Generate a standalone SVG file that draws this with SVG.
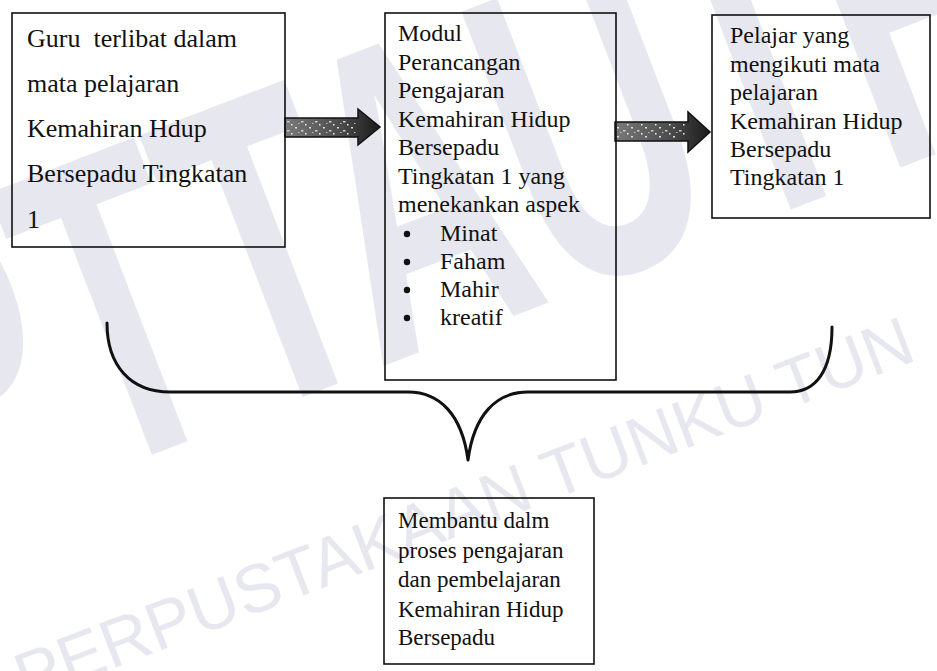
<svg xmlns="http://www.w3.org/2000/svg" width="937" height="671" viewBox="0 0 937 671">
<defs>
<style>
.box{fill:none;stroke:#111;stroke-width:1.6}
.t26{font-family:"Liberation Serif","Times New Roman",serif;font-size:26px;fill:#111}
.t24{font-family:"Liberation Serif","Times New Roman",serif;font-size:24px;fill:#111}
.t23{font-family:"Liberation Serif","Times New Roman",serif;font-size:23px;fill:#111}
.wm{font-family:"Liberation Sans",Arial,sans-serif;fill:#e7e7f0}
.brace{fill:none;stroke:#111;stroke-width:3;stroke-linecap:round;stroke-linejoin:round}
.arrow{stroke:#111;stroke-width:1.5;fill:url(#tex)}
.spk{fill:url(#speck)}
</style>
<linearGradient id="tex" x1="0" y1="0" x2="1" y2="0">
<stop offset="0" stop-color="#7a7a7a"/>
<stop offset="0.6" stop-color="#4a4a4a"/>
<stop offset="1" stop-color="#1a1a1a"/>
</linearGradient>
<pattern id="speck" width="14" height="9" patternUnits="userSpaceOnUse">
<rect x="1" y="1" width="2" height="1.5" fill="#ddd"/>
<rect x="7" y="4" width="2.5" height="1.5" fill="#ccc"/>
<rect x="11" y="7" width="1.5" height="1.5" fill="#eee"/>
<rect x="4" y="6" width="1.5" height="1" fill="#bbb"/>
</pattern>
</defs>
<rect width="937" height="671" fill="#fff"/>
<g id="watermark">
<text class="wm" font-size="440" font-weight="bold" transform="translate(-70,540) rotate(-21) scale(0.6,1)">PTTAUTHM</text>
<text class="wm" font-size="68" transform="translate(26,702) rotate(-21)">PERPUSTAKAAN TUNKU TUN</text>
</g>
<g id="connectors">
<path class="arrow" d="M285,118 L358,118 L358,109 L380,127 L358,145 L358,137 L285,137 Z"/>
<path class="spk" d="M287,120 L356,120 L356,135 L287,135 Z"/>
<path class="arrow" d="M615,122 L688,122 L688,112 L710,132 L688,152 L688,141 L615,141 Z"/>
<path class="spk" d="M617,124 L686,124 L686,139 L617,139 Z"/>
<path class="brace" d="M107,323 C107,365 130,392 170,392 L408,392 C440,392 462,415 468,460 C474,415 496,392 528,392 L790,392 C815,392 832,372 832,327"/>
</g>
<g id="node-guru">
<rect class="box" x="12" y="13" width="273" height="234"/>
<text class="t26" x="27" y="47" xml:space="preserve">Guru  terlibat dalam</text>
<text class="t26" x="27" y="92">mata pelajaran</text>
<text class="t26" x="27" y="137">Kemahiran Hdup</text>
<text class="t26" x="27" y="182">Bersepadu Tingkatan</text>
<text class="t26" x="27" y="228">1</text>
</g>
<g id="node-modul">
<rect class="box" x="385" y="13" width="231" height="367"/>
<text class="t24" x="398" y="41">Modul</text>
<text class="t24" x="398" y="70">Perancangan</text>
<text class="t24" x="398" y="98">Pengajaran</text>
<text class="t24" x="398" y="127">Kemahiran Hidup</text>
<text class="t24" x="398" y="155">Bersepadu</text>
<text class="t24" x="398" y="184">Tingkatan 1 yang</text>
<text class="t24" x="398" y="212">menekankan aspek</text>
<circle cx="407" cy="234" r="3.2" fill="#111"/>
<text class="t24" x="440" y="241">Minat</text>
<circle cx="407" cy="262" r="3.2" fill="#111"/>
<text class="t24" x="440" y="269">Faham</text>
<circle cx="407" cy="290" r="3.2" fill="#111"/>
<text class="t24" x="440" y="297">Mahir</text>
<circle cx="407" cy="318" r="3.2" fill="#111"/>
<text class="t24" x="440" y="325">kreatif</text>
</g>
<g id="node-pelajar">
<rect class="box" x="712" y="15" width="218" height="203"/>
<text class="t24" x="730" y="43">Pelajar yang</text>
<text class="t24" x="730" y="72">mengikuti mata</text>
<text class="t24" x="730" y="100">pelajaran</text>
<text class="t24" x="730" y="129">Kemahiran Hidup</text>
<text class="t24" x="730" y="157">Bersepadu</text>
<text class="t24" x="730" y="185">Tingkatan 1</text>
</g>
<g id="node-membantu">
<rect class="box" x="384" y="498" width="210" height="166"/>
<text class="t23" x="398" y="528">Membantu dalm</text>
<text class="t23" x="398" y="558">proses pengajaran</text>
<text class="t23" x="398" y="587">dan pembelajaran</text>
<text class="t23" x="398" y="617">Kemahiran Hidup</text>
<text class="t23" x="398" y="645">Bersepadu</text>
</g>
</svg>
